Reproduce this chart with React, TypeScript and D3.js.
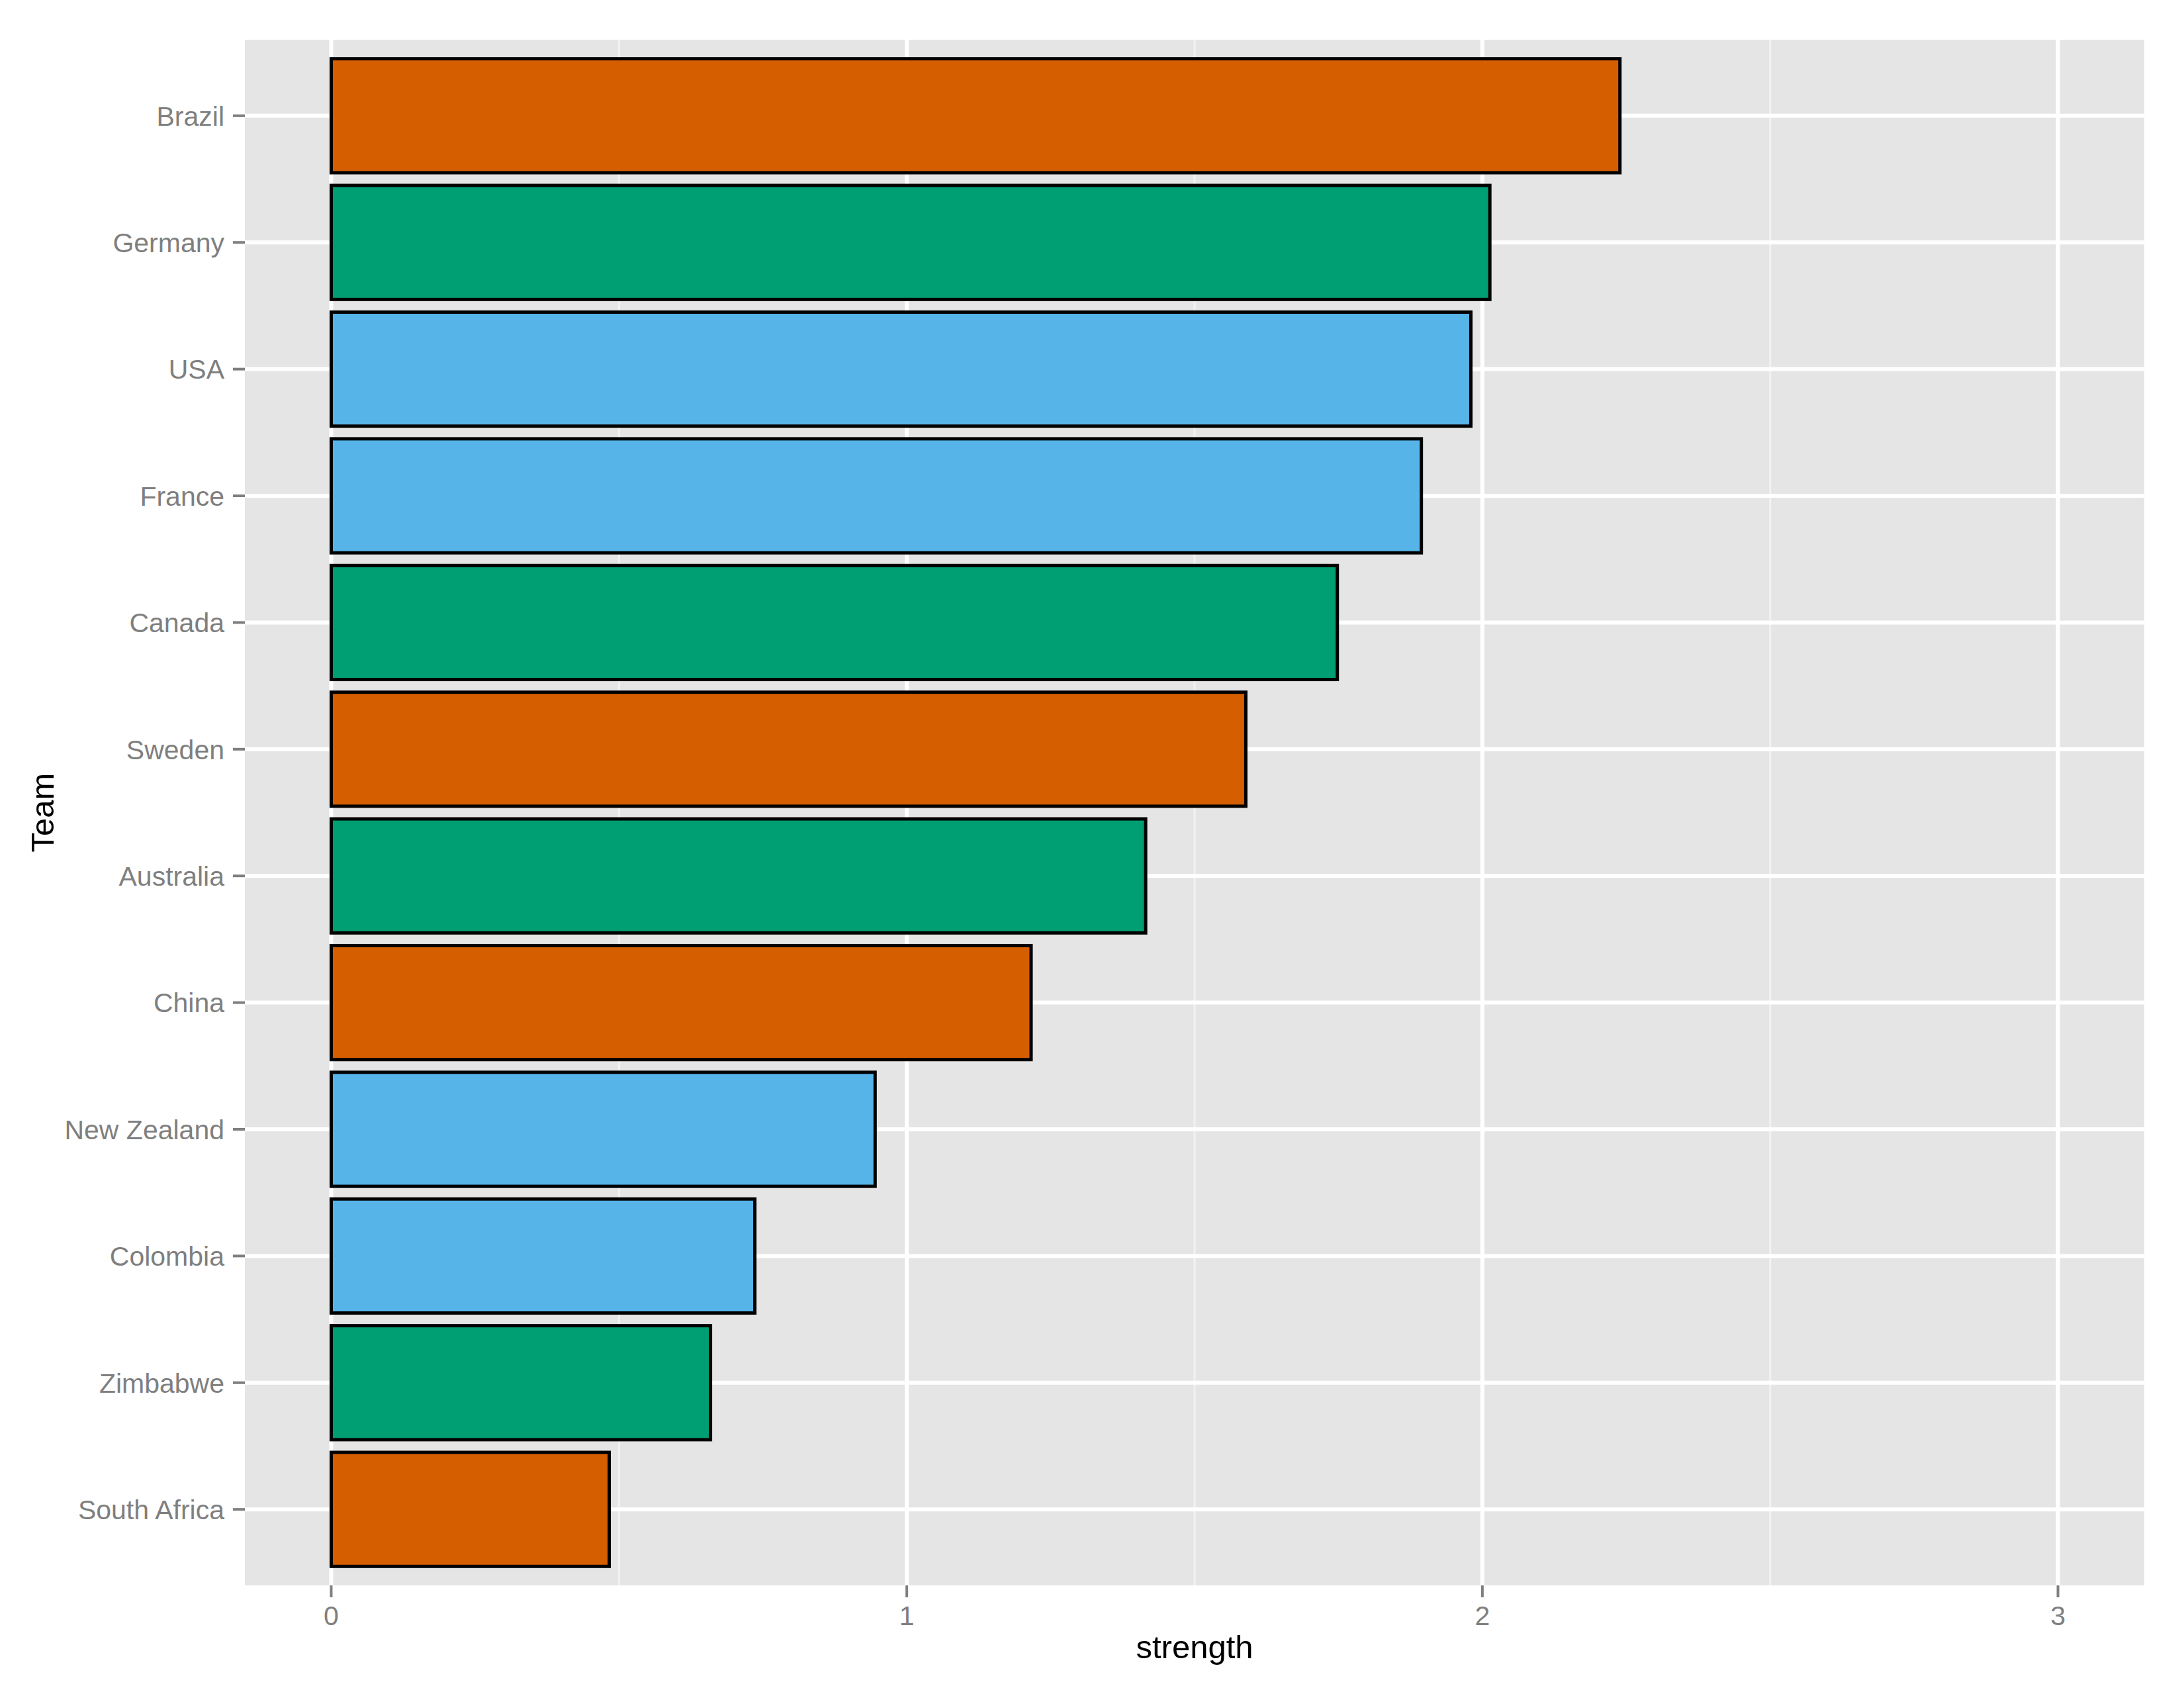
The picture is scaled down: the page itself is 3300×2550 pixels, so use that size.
import * as d3 from "d3";

const W = 3300;
const H = 2550;
const PANEL = { left: 370, right: 3240, top: 60, bottom: 2395 };

// data, top to bottom
const teams = [
  "Brazil",
  "Germany",
  "USA",
  "France",
  "Canada",
  "Sweden",
  "Australia",
  "China",
  "New Zealand",
  "Colombia",
  "Zimbabwe",
  "South Africa",
];
const strength = [2.239, 2.013, 1.98, 1.894, 1.748, 1.589, 1.415, 1.216, 0.945, 0.736, 0.659, 0.483];
const groups = ["a", "b", "c", "c", "b", "a", "b", "a", "c", "c", "b", "a"];
const groupKeys = ["a", "b", "c"];
const groupColors = ["#D55E00", "#009E73", "#56B4E9"];
const xTicks = [0, 1, 2, 3];
const xMinor = [0.5, 1.5, 2.5];

const FONT = "'Liberation Sans', Arial, Helvetica, sans-serif";

export default function App() {
  const x = d3.scaleLinear().domain([-0.15, 3.15]).range([PANEL.left, PANEL.right]);
  const y = d3.scalePoint<string>().domain(teams).range([PANEL.top, PANEL.bottom]).padding(0.6);
  const fill = d3.scaleOrdinal<string, string>().domain(groupKeys).range(groupColors);
  const barH = y.step() * 0.9;

  return (
    <svg
      width={W}
      height={H}
      style={{ position: "absolute", left: 0, top: 0, display: "block", background: "#fff" }}
      fontFamily={FONT}
    >
      <rect x={0} y={0} width={W} height={H} fill="#fff" />
      {/* panel */}
      <rect
        x={PANEL.left}
        y={PANEL.top}
        width={PANEL.right - PANEL.left}
        height={PANEL.bottom - PANEL.top}
        fill="#E5E5E5"
      />
      {/* minor grid */}
      {xMinor.map((t) => (
        <line key={"mn" + t} x1={x(t)} x2={x(t)} y1={PANEL.top} y2={PANEL.bottom} stroke="#F2F2F2" strokeWidth={3} />
      ))}
      {/* major grid */}
      {xTicks.map((t) => (
        <line key={"mx" + t} x1={x(t)} x2={x(t)} y1={PANEL.top} y2={PANEL.bottom} stroke="#fff" strokeWidth={6} />
      ))}
      {teams.map((t) => (
        <line key={"my" + t} x1={PANEL.left} x2={PANEL.right} y1={y(t)} y2={y(t)} stroke="#fff" strokeWidth={6} />
      ))}
      {/* bars */}
      {teams.map((t, i) => (
        <rect
          key={"bar" + t}
          x={x(0)}
          y={(y(t) as number) - barH / 2}
          width={x(strength[i]) - x(0)}
          height={barH}
          fill={fill(groups[i])}
          stroke="#000"
          strokeWidth={5}
        />
      ))}
      {/* y axis */}
      {teams.map((t) => (
        <g key={"yt" + t}>
          <line x1={PANEL.left - 18} x2={PANEL.left} y1={y(t)} y2={y(t)} stroke="#7F7F7F" strokeWidth={4} />
          <text x={PANEL.left - 31} y={y(t)} dy="0.36em" textAnchor="end" fontSize={41} fill="#7F7F7F">
            {t}
          </text>
        </g>
      ))}
      {/* x axis */}
      {xTicks.map((t) => (
        <g key={"xt" + t}>
          <line x1={x(t)} x2={x(t)} y1={PANEL.bottom} y2={PANEL.bottom + 18} stroke="#7F7F7F" strokeWidth={4} />
          <text x={x(t)} y={PANEL.bottom + 60} textAnchor="middle" fontSize={41} fill="#7F7F7F">
            {t}
          </text>
        </g>
      ))}
      {/* titles */}
      <text x={(PANEL.left + PANEL.right) / 2} y={2505} textAnchor="middle" fontSize={49} fill="#000">
        strength
      </text>
      <text
        transform={`translate(81,${(PANEL.top + PANEL.bottom) / 2}) rotate(-90)`}
        textAnchor="middle"
        fontSize={49}
        fill="#000"
      >
        Team
      </text>
    </svg>
  );
}
